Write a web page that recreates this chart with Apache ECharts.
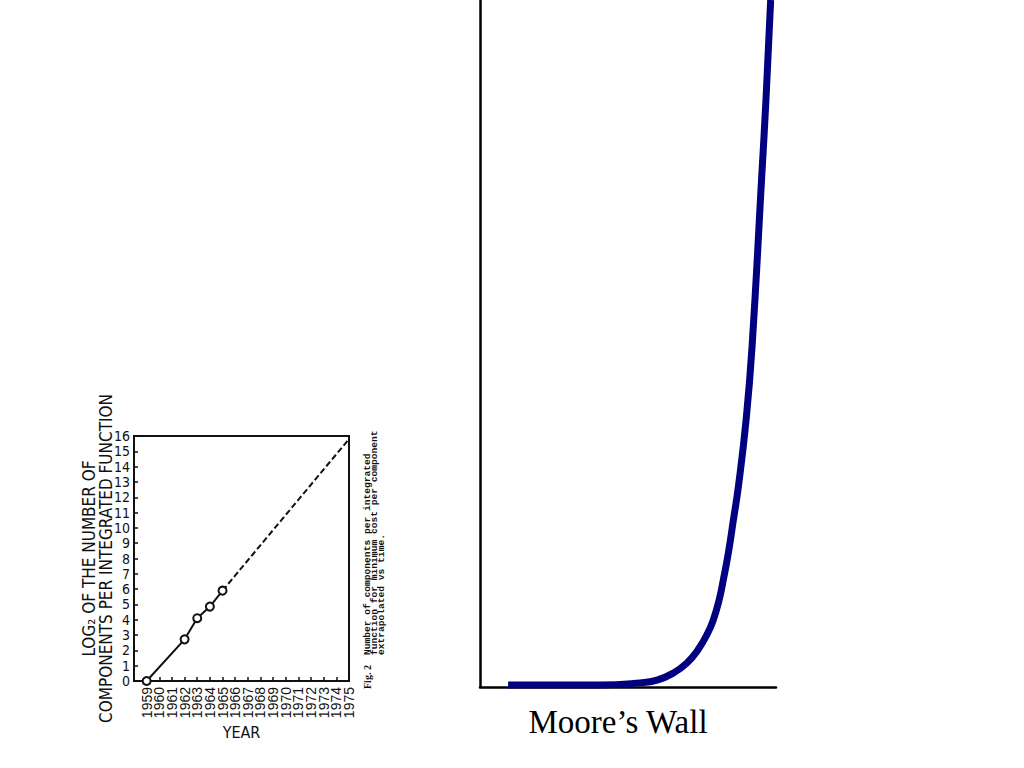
<!DOCTYPE html>
<html><head><meta charset="utf-8">
<script src="https://cdn.jsdelivr.net/npm/echarts@6/dist/echarts.min.js"></script>
<style>html,body{margin:0;padding:0;background:#fff}#c{width:1024px;height:768px}</style>
</head><body><div id="c"></div>
<script>
// Left panel: Moore's 1965 figure
const yearTicks = ['1958', '1959', '1960', '1961', '1962', '1963', '1964', '1965', '1966', '1967', '1968', '1969', '1970', '1971', '1972', '1973', '1974', '1975'];
const years = ['1959', '1962', '1963', '1964', '1965'];
const log2Components = [0, 2.72, 4.1, 4.86, 5.9];
const extrapYears = ['1965', '1975'];
const extrapValues = [5.9, 15.8];
const yAxisTitleLines = ['LOG\u2082 OF THE NUMBER OF', 'COMPONENTS PER INTEGRATED FUNCTION'];
const xAxisTitle = 'YEAR';
const captionLines = ['Number of components per integrated', 'function for minimum cost per component', 'extrapolated vs time.'];
const figLabel = 'Fig. 2';

// Right panel: "Moore's Wall" curve (arbitrary units 0-100)
const wallX = [9.5, 40.5, 54.1, 59.8, 65.2, 69.9, 73.6, 77.0, 78.8, 80.8, 82.2, 83.9, 85.6, 87.3, 89.9, 91.9, 95.2, 96.6, 98.2];
const wallY = [0.3, 0.3, 0.6, 1.0, 2.0, 3.5, 5.4, 7.9, 9.75, 12.7, 15.6, 19.5, 24.3, 29.2, 38.9, 49.5, 74.5, 85.4, 100];
const wallTitle = 'Moore\u2019s Wall';

const narrow = "'Liberation Sans Narrow', 'DejaVu Sans Condensed', 'Liberation Sans', sans-serif";
const sans = "'Liberation Sans', Arial, sans-serif";
const ink = '#111';

const chart = echarts.init(document.getElementById('c'), null, {renderer: 'svg'});
chart.setOption({
  animation: false,
  backgroundColor: '#fff',
  grid: [
    {left: 134, top: 436, width: 215, height: 245, show: true, borderColor: ink, borderWidth: 2, backgroundColor: 'transparent'},
    {left: 480, top: 0, width: 296, height: 687, show: false}
  ],
  xAxis: [
    {
      gridIndex: 0, type: 'category', data: yearTicks, boundaryGap: false,
      axisLine: {show: true, lineStyle: {color: ink, width: 2}},
      axisTick: {show: true, inside: true, length: 4, interval: 0, lineStyle: {color: ink, width: 1.5}},
      splitLine: {show: false},
      axisLabel: {rotate: 90, interval: 0, fontSize: 14, color: ink, margin: 6, fontFamily: sans,
        formatter: v => (v === '1958' ? '' : v)},
      name: xAxisTitle, nameLocation: 'middle', nameGap: 43, nameMoveOverlap: false,
      nameTextStyle: {fontSize: 16, color: ink, fontFamily: narrow}
    },
    {
      gridIndex: 1, type: 'value', min: 0, max: 100,
      axisLine: {show: true, lineStyle: {color: '#000', width: 2.5}},
      axisTick: {show: false}, axisLabel: {show: false}, splitLine: {show: false}
    }
  ],
  yAxis: [
    {
      gridIndex: 0, type: 'value', min: 0, max: 16, interval: 1,
      axisLine: {show: true, lineStyle: {color: ink, width: 2}},
      axisTick: {show: true, inside: true, length: 4, lineStyle: {color: ink, width: 1.5}},
      splitLine: {show: false},
      axisLabel: {fontSize: 14, lineHeight: 14, color: ink, margin: 4, fontFamily: narrow, showMaxLabel: true, hideOverlap: false},
      name: yAxisTitleLines.join('\n'), nameLocation: 'middle', nameRotate: 90, nameGap: 20, nameMoveOverlap: false,
      nameTextStyle: {fontSize: 17, lineHeight: 17, color: ink, fontFamily: narrow, align: 'center'}
    },
    {
      gridIndex: 1, type: 'value', min: 0, max: 100,
      axisLine: {show: true, lineStyle: {color: '#000', width: 2.5}},
      axisTick: {show: false}, axisLabel: {show: false}, splitLine: {show: false}
    }
  ],
  series: [
    {
      type: 'line', xAxisIndex: 0, yAxisIndex: 0,
      data: years.map((y, i) => [y, log2Components[i]]),
      symbol: 'emptyCircle', symbolSize: 8,
      lineStyle: {color: ink, width: 2},
      itemStyle: {color: ink, borderColor: ink, borderWidth: 1.8},
      z: 3
    },
    {
      type: 'line', xAxisIndex: 0, yAxisIndex: 0,
      data: extrapYears.map((y, i) => [y, extrapValues[i]]),
      showSymbol: false,
      lineStyle: {color: ink, width: 2, type: [6, 3]},
      z: 2
    },
    {
      type: 'line', xAxisIndex: 1, yAxisIndex: 1,
      data: wallX.map((x, i) => [x, wallY[i]]),
      showSymbol: false, smooth: 0.5,
      lineStyle: {color: '#000080', width: 7, cap: 'butt', join: 'round'},
      z: 1
    }
  ],
  graphic: [
    {type: 'text', x: 618, y: 722, style: {text: wallTitle, fontSize: 33, fontFamily: "'Liberation Serif', 'Times New Roman', serif", fill: '#000', align: 'center', verticalAlign: 'middle'}},
    {type: 'text', x: 367, y: 689, rotation: Math.PI / 2, style: {text: figLabel, fontSize: 10, fontWeight: 'bold', fontFamily: "'Liberation Serif', serif", fill: ink, align: 'left', verticalAlign: 'middle'}},
    {type: 'text', x: 367, y: 655, rotation: Math.PI / 2, style: {text: captionLines[0], fontSize: 9.6, fontWeight: 'bold', fontFamily: "'Liberation Mono', monospace", fill: ink, align: 'left', verticalAlign: 'middle'}},
    {type: 'text', x: 374, y: 655, rotation: Math.PI / 2, style: {text: captionLines[1], fontSize: 9.6, fontWeight: 'bold', fontFamily: "'Liberation Mono', monospace", fill: ink, align: 'left', verticalAlign: 'middle'}},
    {type: 'text', x: 381, y: 655, rotation: Math.PI / 2, style: {text: captionLines[2], fontSize: 9.6, fontWeight: 'bold', fontFamily: "'Liberation Mono', monospace", fill: ink, align: 'left', verticalAlign: 'middle'}}
  ]
});
</script>
</body></html>
